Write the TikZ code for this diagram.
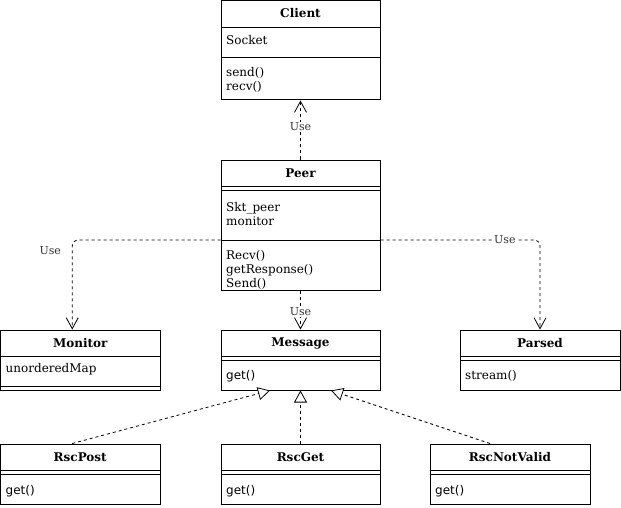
\documentclass[tikz,border=0pt]{standalone}
\usepackage{fontspec}
\setmainfont{DejaVu Serif}
\newfontfamily\getfont{DejaVu Sans}
\usetikzlibrary{arrows.meta}
\tikzset{
    classbox/.style={draw, line width=1pt, inner sep=0pt, minimum width=159pt, minimum height=60pt},
    classname/.style={font=\fontsize{12}{14}\selectfont\bfseries, inner sep=0pt},
    member/.style={anchor=west, align=left, inner sep=0pt, font=\fontsize{12}{14}\selectfont},
    uselabel/.style={fill=white, inner sep=1pt, text=black!80, font=\fontsize{11}{13}\selectfont},
    usearrow/.style={dash pattern=on 3pt off 3pt, line width=0.8pt, -{Straight Barb[length=11pt,width=12pt]}},
    inherit/.style={dash pattern=on 3pt off 3pt, line width=0.8pt, -{Triangle[open,fill=white,length=12pt,width=13pt]}}
}
\begin{document}
\begin{tikzpicture}[x=1pt, y=-1pt]
    \useasboundingbox (0,0) rectangle (621,508);
    % Client
    \node[classbox, minimum height=99.5pt] (client) at (300.5,50.25) {};
    \node[classname] (clientname) at (300.5,13.5) {Client};
    \draw (221,27) -- (380,27) (221,57) -- (380,57);
    \node[member] (clientattr) at (226,40) {Socket};
    \node[member] (clientops) at (226,80) {send()\\recv()};
    % Peer
    \node[classbox, minimum height=130pt] (peer) at (300.5,225) {};
    \node[classname] (peername) at (300.5,173) {Peer};
    \draw (221,186) -- (380,186) (221,190) -- (380,190) (221,240) -- (380,240);
    \node[member] (peerattr) at (226,214) {Skt\_peer\\monitor};
    \node[member] (peerops) at (226,270) {Recv()\\getResponse()\\Send()};
    % Monitor
    \node[classbox, minimum width=159.5pt] (monitor) at (80.25,360) {};
    \node[classname] (monitorname) at (80.25,343) {Monitor};
    \draw (0.5,356) -- (160,356) (0.5,386) -- (160,386);
    \node[member] (monitorattr) at (5.5,369) {unorderedMap};
    % Message
    \node[classbox] (message) at (300.5,360) {};
    \node[classname] (messagename) at (300.5,343) {Message};
    \draw (221,356) -- (380,356) (221,360) -- (380,360);
    \node[member, font=\fontsize{12}{14}\getfont] (messageops) at (226,376) {get()};
    % Parsed
    \node[classbox, minimum width=160pt] (parsed) at (540,360) {};
    \node[classname] (parsedname) at (540,343) {Parsed};
    \draw (460,356) -- (620,356) (460,360) -- (620,360);
    \node[member] (parsedops) at (465,376) {stream()};
    % RscPost
    \node[classbox, minimum width=159.5pt] (rscpost) at (80.25,474) {};
    \node[classname] (rscpostname) at (80.25,457) {RscPost};
    \draw (0.5,470.5) -- (160,470.5) (0.5,474) -- (160,474);
    \node[member, font=\fontsize{12}{14}\getfont] (rscpostops) at (5.5,491) {get()};
    % RscGet
    \node[classbox] (rscget) at (300.5,474) {};
    \node[classname] (rscgetname) at (300.5,457) {RscGet};
    \draw (221,470.5) -- (380,470.5) (221,474) -- (380,474);
    \node[member, font=\fontsize{12}{14}\getfont] (rscgetops) at (226,491) {get()};
    % RscNotValid
    \node[classbox, minimum width=160pt] (rscnotvalid) at (510,474) {};
    \node[classname] (rscnotvalidname) at (510,457) {RscNotValid};
    \draw (430,470.5) -- (590,470.5) (430,474) -- (590,474);
    \node[member, font=\fontsize{12}{14}\getfont] (rscnotvalidops) at (435,491) {get()};
    % uses
    \draw[usearrow] (peer.north) -- node[uselabel, pos=0.55] (useclient) {Use} (client.south);
    \draw[usearrow] (peer.south) -- node[uselabel, pos=0.55] (usemessage) {Use} (message.north);
    \draw[usearrow, rounded corners=6pt] (peer.west |- 0,240) -| node[pos=0.5, uselabel, xshift=-22pt, yshift=-11pt] (usemonitor) {Use} ([xshift=-8pt]monitor.north);
    \draw[usearrow, rounded corners=6pt] (peer.east |- 0,240) -| node[pos=0.39, uselabel] (useparsed) {Use} (parsed.north);
    % inheritance
    \draw[inherit] ([xshift=-8pt]rscpost.north) -- (message.225);
    \draw[inherit] (rscget.north) -- (message.south);
    \draw[inherit] ([xshift=-20pt]rscnotvalid.north) -- (message.315);
\end{tikzpicture}
\end{document}
